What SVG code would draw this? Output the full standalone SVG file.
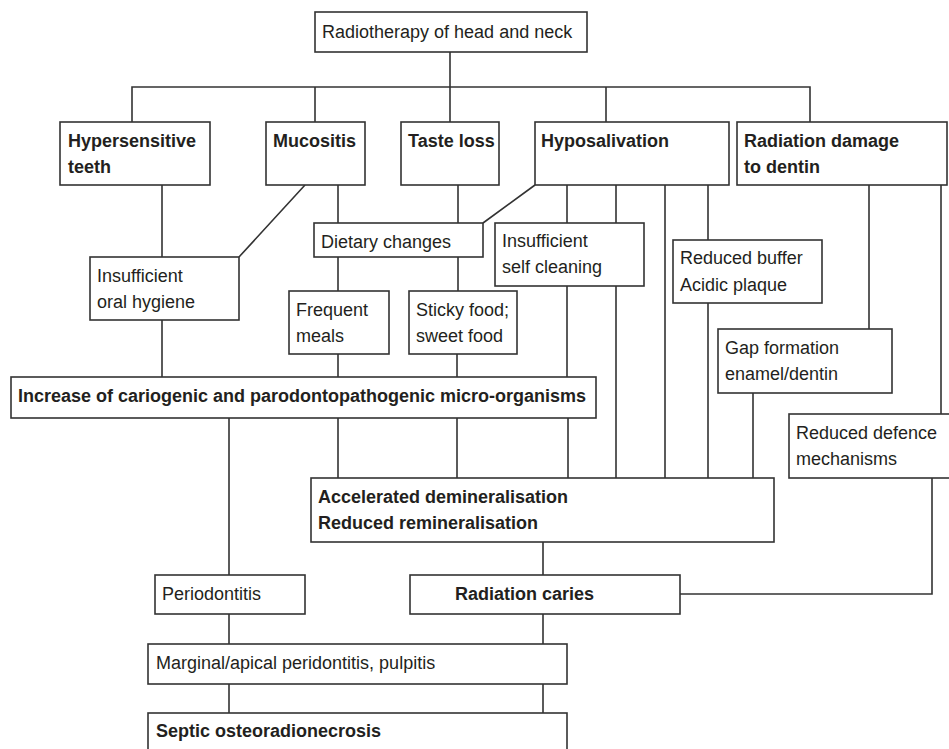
<svg xmlns="http://www.w3.org/2000/svg" width="949" height="749" viewBox="0 0 949 749">
<style>
rect{fill:#fff;stroke:#333;stroke-width:1.6}
.c path{fill:none;stroke:#333;stroke-width:1.6}
text{font-family:"Liberation Sans",Arial,sans-serif;font-size:18px;fill:#231f20}
.b{font-weight:bold}
</style>
<rect x="0" y="0" width="949" height="749" style="stroke:none"/>
<g class="c" id="connectors">
<path d="M450 52V122M132 122V87H810V122M315 87V122M606 87V122"/>
<path d="M162 185V257M162 320V377M305 185L239 257M338 185V223M458 185V223M535 185L483 223"/>
<path d="M338 257V291M458 257V291M338 354V377M457 354V377"/>
<path d="M567 185V223M616 185V223M567 286V377M616 286V478M665 185V478M708 185V240M708 303V478"/>
<path d="M869 185V329M941 185V414M753 393V478"/>
<path d="M568 418V478M338 418V478M457 418V478M229 418V575"/>
<path d="M543 542V575M932 478V594H680"/>
<path d="M229 614V644M543 614V644M229 684V713M543 684V713"/>
</g>
<g id="radiotherapy"><rect x="315" y="12" width="272" height="40"/><text x="322" y="38">Radiotherapy of head and neck</text></g>
<g id="hypersensitive"><rect x="60" y="122" width="150" height="63"/><text class="b" x="68" y="147">Hypersensitive</text><text class="b" x="68" y="173">teeth</text></g>
<g id="mucositis"><rect x="266" y="122" width="99" height="63"/><text class="b" x="273" y="147">Mucositis</text></g>
<g id="tasteloss"><rect x="401" y="122" width="98" height="63"/><text class="b" x="408" y="147">Taste loss</text></g>
<g id="hyposalivation"><rect x="535" y="122" width="194" height="63"/><text class="b" x="541" y="147">Hyposalivation</text></g>
<g id="radiationdamage"><rect x="737" y="122" width="210" height="63"/><text class="b" x="744" y="147">Radiation damage</text><text class="b" x="744" y="173">to dentin</text></g>
<g id="dietary"><rect x="314" y="223" width="169" height="34"/><text x="321" y="248">Dietary changes</text></g>
<g id="oralhygiene"><rect x="90" y="257" width="149" height="63"/><text x="97" y="282">Insufficient</text><text x="97" y="308">oral hygiene</text></g>
<g id="selfcleaning"><rect x="495" y="223" width="149" height="63"/><text x="502" y="247">Insufficient</text><text x="502" y="273">self cleaning</text></g>
<g id="buffer"><rect x="673" y="240" width="149" height="63"/><text x="680" y="264">Reduced buffer</text><text x="680" y="291">Acidic plaque</text></g>
<g id="frequent"><rect x="289" y="291" width="100" height="63"/><text x="296" y="316">Frequent</text><text x="296" y="342">meals</text></g>
<g id="sticky"><rect x="409" y="291" width="108" height="63"/><text x="416" y="316">Sticky food;</text><text x="416" y="342">sweet food</text></g>
<g id="gap"><rect x="718" y="329" width="174" height="64"/><text x="725" y="354">Gap formation</text><text x="725" y="380">enamel/dentin</text></g>
<g id="increase"><rect x="11" y="377" width="585" height="41"/><text class="b" x="18" y="402">Increase of cariogenic and parodontopathogenic micro-organisms</text></g>
<g id="defence"><rect x="789" y="414" width="170" height="64"/><text x="796" y="439">Reduced defence</text><text x="796" y="465">mechanisms</text></g>
<g id="accelerated"><rect x="311" y="478" width="463" height="64"/><text class="b" x="318" y="503">Accelerated demineralisation</text><text class="b" x="318" y="529">Reduced remineralisation</text></g>
<g id="periodontitis"><rect x="155" y="575" width="150" height="39"/><text x="162" y="600">Periodontitis</text></g>
<g id="caries"><rect x="410" y="575" width="270" height="39"/><text class="b" x="455" y="600">Radiation caries</text></g>
<g id="marginal"><rect x="148" y="644" width="419" height="40"/><text x="156" y="669">Marginal/apical peridontitis, pulpitis</text></g>
<g id="septic"><rect x="148" y="713" width="419" height="50"/><text class="b" x="156" y="737">Septic osteoradionecrosis</text></g>
</svg>
